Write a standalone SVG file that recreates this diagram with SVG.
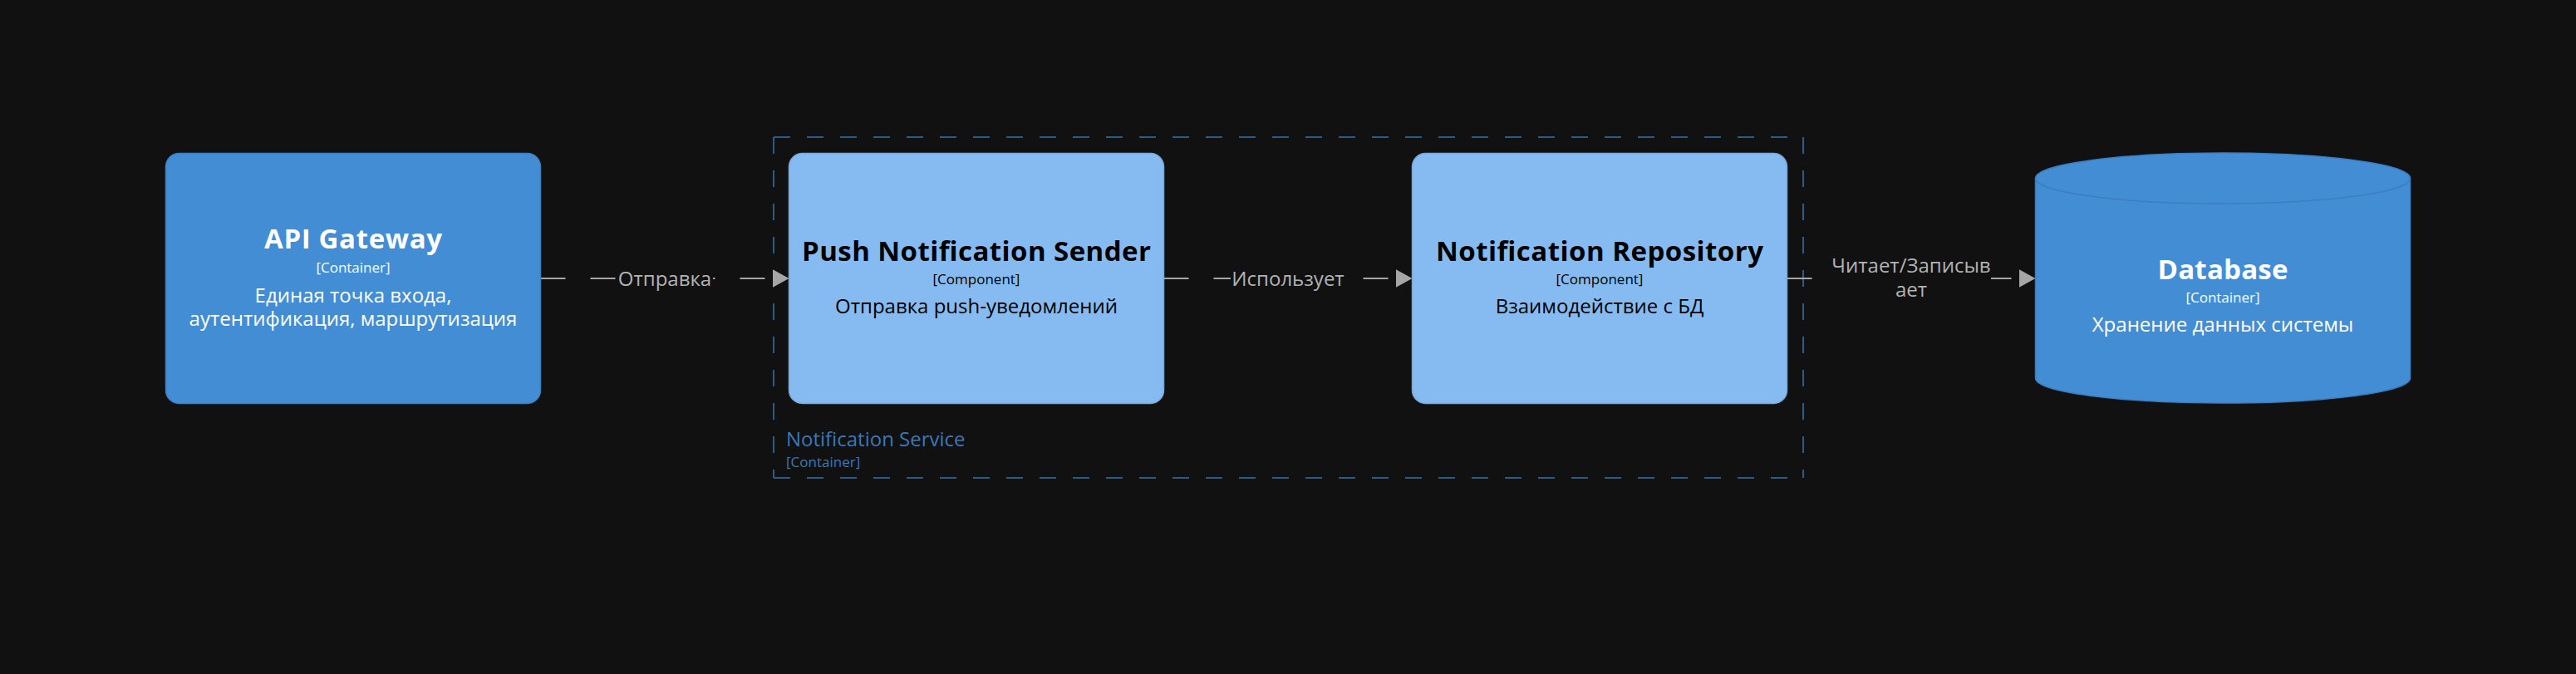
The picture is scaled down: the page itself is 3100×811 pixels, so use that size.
<svg xmlns="http://www.w3.org/2000/svg" width="3100" height="811" viewBox="0 0 3100 811">
<defs>
<style>
text{font-family:"Open Sans","Noto Sans","Liberation Sans",sans-serif;text-anchor:middle}
.title{font-size:33px;font-weight:700}
.tag{font-size:17px}
.desc{font-size:24px}
.lbl{font-size:24px;fill:#b3b3b3}
.cont{fill:#438dd5;stroke:#3c7fc0;stroke-width:1.5}
.comp{fill:#85bbf0;stroke:#78a8d8;stroke-width:1.5}
.wt{fill:#ffffff}
.bk{fill:#000000}
.edge{stroke:#a6a6a6;stroke-width:2;stroke-dasharray:30 30;fill:none}
.lblbg{fill:#111111}
.bnd{stroke:#2e5a86;stroke-width:2;stroke-dasharray:20 20;fill:none}
.bndt{fill:#3a78b8;text-anchor:start}
</style>
<marker id="arr" markerUnits="userSpaceOnUse" markerWidth="20" markerHeight="22" refX="20" refY="11" orient="auto">
<path d="M0,0 L20,11 L0,22 Z" fill="#a6a6a6"/>
</marker>
</defs>
<rect width="3100" height="811" fill="#111111"/>

<g id="notification-service-boundary">
<path class="bnd" d="M931,165 H2170 M931,165 V575 M931,575 H2170 M2170,165 V575"/>
<text class="bndt" x="946" y="537" font-size="24px">Notification Service</text>
<text class="bndt" x="946" y="562" font-size="17px">[Container]</text>
</g>

<g id="connectors">
<line class="edge" x1="650.5" y1="335" x2="949.5" y2="335" marker-end="url(#arr)"/>
<rect class="lblbg" x="742" y="320" width="116" height="30"/>
<text class="lbl" x="800" y="343.5">Отправка</text>

<line class="edge" x1="1400.5" y1="335" x2="1699.5" y2="335" marker-end="url(#arr)"/>
<rect class="lblbg" x="1481" y="320" width="138" height="30"/>
<text class="lbl" x="1550" y="343.5">Использует</text>

<line class="edge" x1="2150.5" y1="335" x2="2449.5" y2="335" marker-end="url(#arr)"/>
<rect class="lblbg" x="2203" y="308" width="193" height="56"/>
<text class="lbl" x="2300" y="328.3">Читает/Записыв</text>
<text class="lbl" x="2300" y="356.7">ает</text>
</g>

<g id="api-gateway">
<rect class="cont" x="199.5" y="184.5" width="451" height="301" rx="16"/>
<text class="title wt" x="425" y="299.3" textLength="214">API Gateway</text>
<text class="tag wt" x="425" y="328">[Container]</text>
<text class="desc wt" x="425" y="364">Единая точка входа,</text>
<text class="desc wt" x="425" y="391.7">аутентификация, маршрутизация</text>
</g>

<g id="push-notification-sender">
<rect class="comp" x="949.5" y="184.5" width="451" height="301" rx="16"/>
<text class="title bk" x="1175" y="314.3" textLength="420">Push Notification Sender</text>
<text class="tag bk" x="1175" y="341.7">[Component]</text>
<text class="desc bk" x="1175" y="377.3">Отправка push-уведомлений</text>
</g>

<g id="notification-repository">
<rect class="comp" x="1699.5" y="184.5" width="451" height="301" rx="16"/>
<text class="title bk" x="1925" y="314.3" textLength="394">Notification Repository</text>
<text class="tag bk" x="1925" y="341.7">[Component]</text>
<text class="desc bk" x="1925" y="377.3">Взаимодействие с БД</text>
</g>

<g id="database">
<path class="cont" d="M2449.5,214.5 A225.5,30.5 0 0 1 2900.5,214.5 V455 A225.5,30 0 0 1 2449.5,455 Z"/>
<path d="M2449.5,214.5 A225.5,30.5 0 0 0 2900.5,214.5" fill="none" stroke="#3c7fc0" stroke-width="1.5"/>
<text class="title wt" x="2675" y="335.7" textLength="157">Database</text>
<text class="tag wt" x="2675" y="364">[Container]</text>
<text class="desc wt" x="2675" y="399.3">Хранение данных системы</text>
</g>
</svg>
